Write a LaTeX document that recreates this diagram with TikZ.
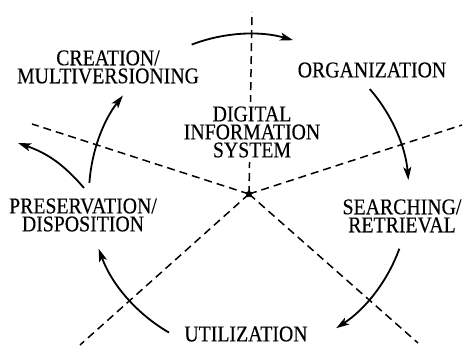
\documentclass[tikz,border=0pt]{standalone}
\usepackage{fontspec}
\setmainfont{Liberation Serif}[FakeStretch=0.88, FakeBold=0.3]
\usetikzlibrary{arrows.meta,shapes.geometric,calc}

\begin{document}
\begin{tikzpicture}[x=1pt, y=1pt,
	phase/.style={align=center, font=\fontsize{22.5}{18}\selectfont, inner sep=1pt},
	sector/.style={line width=1.5pt, dash pattern=on 8pt off 5pt},
	cycarrow/.style={line width=1.8pt, -{Stealth[length=13pt, width=8pt, inset=3pt]}}]
\useasboundingbox (0,0) rectangle (463,347);

\coordinate (c) at (249,153);
\coordinate (top) at (252,335);
\coordinate (ul) at (32,223);
\coordinate (ur) at (462,222);
\coordinate (ll) at (80,2);
\coordinate (lr) at (418,4);

% dashed sector lines
\draw[sector] (c) -- (top);
\draw[sector] (c) -- (ul);
\draw[sector] (c) -- (ur);
\draw[sector] (c) -- (ll);
\draw[sector] (c) -- (lr);
\node[star, star points=5, fill, inner sep=0pt, minimum size=8pt] (hub) at (c) {};

% phases
\node[phase, fill=white, inner sep=4pt] (dis) at (252,215) {DIGITAL\\INFORMATION\\SYSTEM};
\node[phase] (cre) at (108,280) {CREATION/\\MULTIVERSIONING};
\node[phase] (org) at (372,277) {ORGANIZATION};
\node[phase] (sea) at (402,131) {SEARCHING/\\RETRIEVAL};
\node[phase] (uti) at (246,13) {UTILIZATION};
\node[phase] (pre) at (83,132) {PRESERVATION/\\DISPOSITION};

% cycle
\foreach \a/\b [count=\i] in {111/74, 41/5, -20/-57, 240/200, 176/142}
{
	\coordinate (arc-\i) at ($(c)+(\a:160)$);
	\draw[cycarrow] (arc-\i) arc[start angle=\a, end angle=\b, radius=160];
}
\coordinate (back-s) at (84,159);
\coordinate (back-e) at (18,204);
\draw[cycarrow] (back-s) to[bend right=15] (back-e);
\end{tikzpicture}
\end{document}
